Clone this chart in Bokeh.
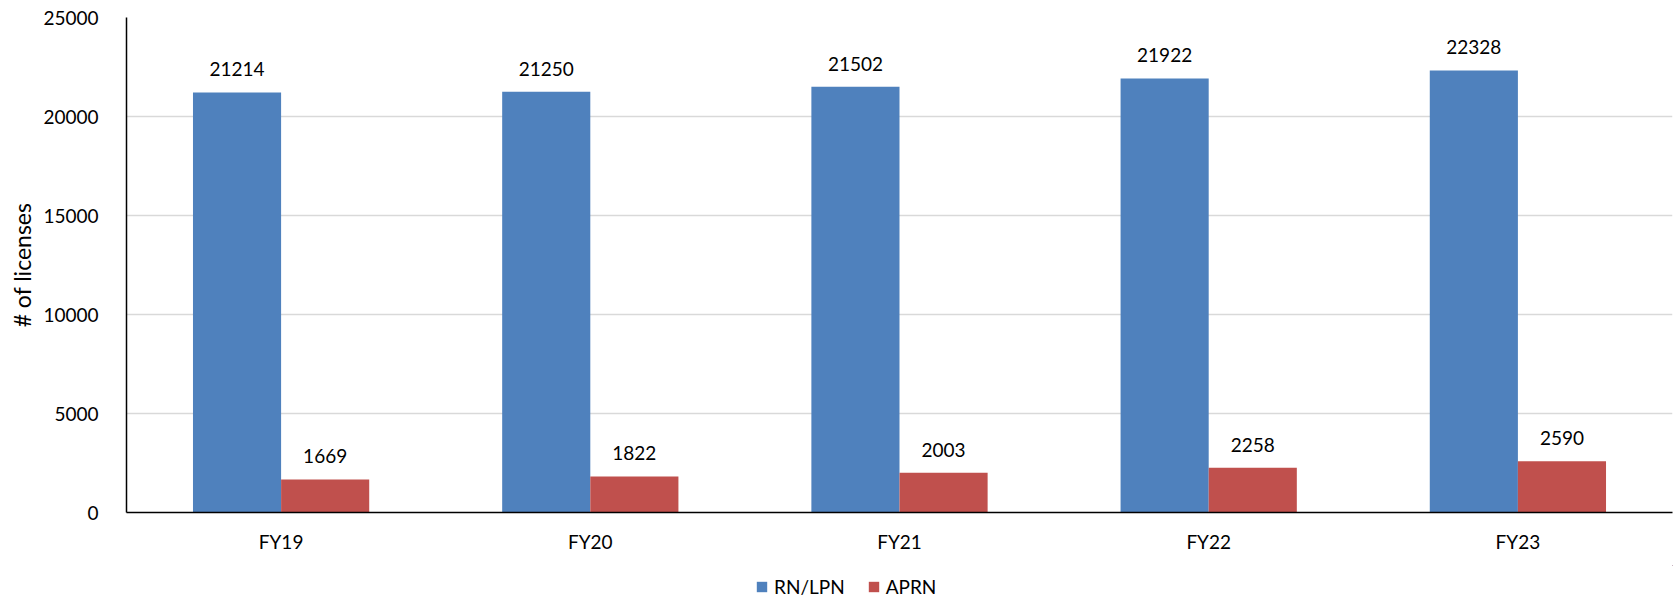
from bokeh.plotting import figure
from bokeh.layouts import column
from bokeh.models import ColumnDataSource, LabelSet, Legend, LegendItem, FactorRange, Range1d, FixedTicker
from bokeh.transform import dodge
from bokeh.core.properties import value
from bokeh.embed import file_html
from bokeh.resources import INLINE

years = ["FY19", "FY20", "FY21", "FY22", "FY23"]
rn_lpn = [21214, 21250, 21502, 21922, 22328]
aprn = [1669, 1822, 2003, 2258, 2590]
series_names = ["RN/LPN", "APRN"]
y_ticks = [0, 5000, 10000, 15000, 20000, 25000]

FONT = "Lato"
BLUE = "#4F81BD"
RED = "#C0504D"

src = ColumnDataSource(dict(fy=years, rn=rn_lpn, ap=aprn,
                            rn_t=[str(v) for v in rn_lpn], ap_t=[str(v) for v in aprn]))

p = figure(width=1673, height=565, x_range=FactorRange(*years), y_range=Range1d(0, 25000),
           output_backend="svg", toolbar_location=None,
           min_border_left=126, min_border_right=1, min_border_top=17, min_border_bottom=53)
p.outline_line_color = None
p.background_fill_color = "white"

bw = 0.285
r1 = p.vbar(x=dodge("fy", -bw / 2, range=p.x_range), top="rn", width=bw, source=src,
            fill_color=BLUE, line_color=None)
r2 = p.vbar(x=dodge("fy", bw / 2, range=p.x_range), top="ap", width=bw, source=src,
            fill_color=RED, line_color=None)

for col, txt, off in (("rn", "rn_t", -bw / 2), ("ap", "ap_t", bw / 2)):
    lab = LabelSet(x=dodge("fy", off, range=p.x_range), y=col, text=txt, source=src,
                   text_align="center", text_baseline="middle", y_offset=23,
                   text_font=value(FONT), text_font_size=value("19px"), text_color="black")
    p.add_layout(lab)

p.yaxis.ticker = FixedTicker(ticks=y_ticks)
p.yaxis.axis_line_color = "black"
p.yaxis.axis_line_width = 1.5
p.yaxis.major_tick_line_color = None
p.yaxis.minor_tick_line_color = None
p.yaxis.major_label_standoff = 22
p.yaxis.major_label_text_font = FONT
p.yaxis.major_label_text_font_size = "19px"
p.yaxis.major_label_text_color = "black"
p.yaxis.axis_label = "# of licenses"
p.yaxis.axis_label_text_font = FONT
p.yaxis.axis_label_text_font_size = "23px"
p.yaxis.axis_label_text_font_style = "normal"
p.yaxis.axis_label_text_color = "black"
p.yaxis.axis_label_standoff = 4

p.xaxis.axis_line_color = "black"
p.xaxis.axis_line_width = 1.5
p.xaxis.major_tick_line_color = None
p.xaxis.minor_tick_line_color = None
p.xaxis.major_label_standoff = 11
p.xaxis.major_label_text_font = FONT
p.xaxis.major_label_text_font_size = "19px"
p.xaxis.major_label_text_color = "black"

p.xgrid.grid_line_color = None
p.ygrid.grid_line_color = "#D9D9D9"
p.ygrid.grid_line_width = 1.5

# legend strip below the chart; its renderers have zero height so only the legend shows
p2 = figure(width=1673, height=35, x_range=Range1d(0, 1), y_range=Range1d(0, 1),
            output_backend="svg", toolbar_location=None,
            x_axis_location=None, y_axis_location=None,
            min_border_left=0, min_border_right=0, min_border_top=0, min_border_bottom=0)
p2.outline_line_color = None
p2.xgrid.grid_line_color = None
p2.ygrid.grid_line_color = None
g1 = p2.vbar(x="rn", top="rn", bottom="rn", width=1, source=src, fill_color=BLUE, line_color=None)
g2 = p2.vbar(x="ap", top="ap", bottom="ap", width=1, source=src, fill_color=RED, line_color=None)

legend = Legend(items=[LegendItem(label=series_names[0], renderers=[g1]),
                       LegendItem(label=series_names[1], renderers=[g2])],
                orientation="horizontal", location=(629, 2),
                padding=0, margin=0, spacing=22, glyph_width=13, glyph_height=13,
                label_standoff=6, label_text_font=FONT, label_text_font_size="19px",
                label_text_color="black", border_line_color=None, background_fill_alpha=0)
p2.add_layout(legend, "center")

layout = column(p, p2, spacing=0)
open("out.html", "w").write(file_html(layout, INLINE))
